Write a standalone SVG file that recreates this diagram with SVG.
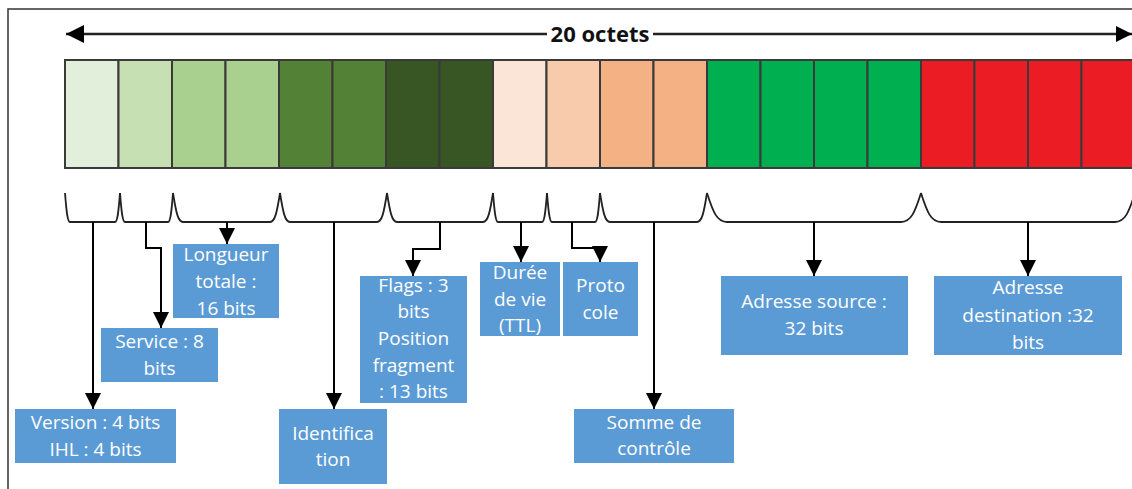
<svg xmlns="http://www.w3.org/2000/svg" width="1132" height="489" viewBox="0 0 1132 489">
  <style>
    .cell { stroke: #3a3a3a; stroke-width: 2; }
    .brace { fill: none; stroke: #222; stroke-width: 1.8; }
    .conn { fill: none; stroke: #000; stroke-width: 2; }
    .box { fill: #5B9BD5; }
    .lbl { font-family: "Open Sans", "Liberation Sans", sans-serif; font-size: 19px; fill: #ffffff; text-anchor: middle; }
    .title { font-family: "Open Sans", "Liberation Sans", sans-serif; font-size: 22px; font-weight: 700; fill: #111; text-anchor: middle; }
  </style>
  <defs>
    <marker id="tip" markerUnits="userSpaceOnUse" markerWidth="16" markerHeight="16" refX="16" refY="8" orient="auto">
      <path d="M0,0 L16,8 L0,16 z" fill="#000"/>
    </marker>
    <marker id="tipStart" markerUnits="userSpaceOnUse" markerWidth="18" markerHeight="18" refX="0" refY="9" orient="auto">
      <path d="M18,0 L0,9 L18,18 z" fill="#000"/>
    </marker>
  </defs>

  <rect width="1132" height="489" fill="#ffffff"/>
  <!-- outer frame -->
  <path d="M8,489 L8,9 L1132,9" fill="none" stroke="#333" stroke-width="1.5"/>

  <!-- header length arrow -->
  <g id="header-length">
    <line x1="66" y1="34" x2="1132" y2="34" stroke="#222" stroke-width="2.5" marker-start="url(#tipStart)" marker-end="url(#tip)"/>
    <rect x="547" y="22" width="106" height="24" fill="#ffffff"/>
    <text class="title" x="600" y="42">20 octets</text>
  </g>

  <!-- 20 header bytes -->
  <g id="bytes">
    <rect class="cell" x="65" y="60" width="53.5" height="108" fill="#E2EFDA"/>
    <rect class="cell" x="118.5" y="60" width="53.5" height="108" fill="#C6E0B4"/>
    <rect class="cell" x="172" y="60" width="53.5" height="108" fill="#A9D08E"/>
    <rect class="cell" x="225.5" y="60" width="53.5" height="108" fill="#A9D08E"/>
    <rect class="cell" x="279" y="60" width="53.5" height="108" fill="#538135"/>
    <rect class="cell" x="332.5" y="60" width="53.5" height="108" fill="#538135"/>
    <rect class="cell" x="386" y="60" width="53.5" height="108" fill="#375623"/>
    <rect class="cell" x="439.5" y="60" width="53.5" height="108" fill="#375623"/>
    <rect class="cell" x="493" y="60" width="53.5" height="108" fill="#FBE5D6"/>
    <rect class="cell" x="546.5" y="60" width="53.5" height="108" fill="#F8CBAD"/>
    <rect class="cell" x="600" y="60" width="53.5" height="108" fill="#F4B183"/>
    <rect class="cell" x="653.5" y="60" width="53.5" height="108" fill="#F4B183"/>
    <rect class="cell" x="707" y="60" width="53.5" height="108" fill="#00B050"/>
    <rect class="cell" x="760.5" y="60" width="53.5" height="108" fill="#00B050"/>
    <rect class="cell" x="814" y="60" width="53.5" height="108" fill="#00B050"/>
    <rect class="cell" x="867.5" y="60" width="53.5" height="108" fill="#00B050"/>
    <rect class="cell" x="921" y="60" width="53.5" height="108" fill="#EC1C24"/>
    <rect class="cell" x="974.5" y="60" width="53.5" height="108" fill="#EC1C24"/>
    <rect class="cell" x="1028" y="60" width="53.5" height="108" fill="#EC1C24"/>
    <rect class="cell" x="1081.5" y="60" width="53.5" height="108" fill="#EC1C24"/>
  </g>

  <!-- braces grouping the bytes into fields -->
  <g id="braces">
    <path class="brace" d="M65,193 C66.5,212 67.5,222 70,222 L115,222 C117.5,222 118.5,212 120,193"/>
    <path class="brace" d="M120,193 C121.5,212 122.5,222 125,222 L168,222 C170.5,222 171.5,212 173,193"/>
    <path class="brace" d="M173,193 C176,212 178,222 183,222 L270,222 C275,222 277,212 280,193"/>
    <path class="brace" d="M280,193 C283,212 285,222 290,222 L377,222 C382,222 384,212 387,193"/>
    <path class="brace" d="M387,193 C390,212 392,222 397,222 L483,222 C488,222 490,212 493,193"/>
    <path class="brace" d="M493,193 C494.5,212 495.5,222 498,222 L542,222 C544.5,222 545.5,212 547,193"/>
    <path class="brace" d="M547,193 C548.5,212 549.5,222 552,222 L595,222 C597.5,222 598.5,212 600,193"/>
    <path class="brace" d="M600,193 C603,212 605,222 610,222 L697,222 C702,222 704,212 707,193"/>
    <path class="brace" d="M707,193 C713,212 717,222 727,222 L901,222 C911,222 915,212 921,193"/>
    <path class="brace" d="M921,193 C927,212 931,222 941,222 L1115,222 C1125,222 1129,212 1135,193"/>
  </g>

  <!-- connectors from braces to field labels -->
  <g id="connectors">
    <path class="conn" d="M93,222 L93,409" marker-end="url(#tip)"/>
    <path class="conn" d="M146,222 L146,248 L161,248 L161,328" marker-end="url(#tip)"/>
    <path class="conn" d="M227,222 L227,244" marker-end="url(#tip)"/>
    <path class="conn" d="M334,222 L334,409" marker-end="url(#tip)"/>
    <path class="conn" d="M440,222 L440,249 L413,249 L413,276" marker-end="url(#tip)"/>
    <path class="conn" d="M521,222 L521,262" marker-end="url(#tip)"/>
    <path class="conn" d="M572,222 L572,248 L600,248 L600,262" marker-end="url(#tip)"/>
    <path class="conn" d="M654,222 L654,409" marker-end="url(#tip)"/>
    <path class="conn" d="M814,222 L814,276" marker-end="url(#tip)"/>
    <path class="conn" d="M1028,222 L1028,276" marker-end="url(#tip)"/>
  </g>

  <!-- field labels -->
  <g id="version">
    <rect class="box" x="15" y="409" width="161" height="54"/>
    <text class="lbl" x="95.5" y="429">Version : 4 bits</text>
    <text class="lbl" x="95.5" y="456">IHL : 4 bits</text>
  </g>
  <g id="service">
    <rect class="box" x="101" y="328" width="117" height="54"/>
    <text class="lbl" x="159.5" y="348">Service : 8</text>
    <text class="lbl" x="159.5" y="375">bits</text>
  </g>
  <g id="longueur">
    <rect class="box" x="173" y="244" width="106" height="74"/>
    <text class="lbl" x="226" y="261">Longueur</text>
    <text class="lbl" x="226" y="288">totale :</text>
    <text class="lbl" x="226" y="315">16 bits</text>
  </g>
  <g id="identification">
    <rect class="box" x="279" y="409" width="108" height="75"/>
    <text class="lbl" x="333" y="440">Identifica</text>
    <text class="lbl" x="333" y="466">tion</text>
  </g>
  <g id="flags">
    <rect class="box" x="360" y="276" width="107" height="127"/>
    <text class="lbl" x="413.5" y="292">Flags : 3</text>
    <text class="lbl" x="413.5" y="318">bits</text>
    <text class="lbl" x="413.5" y="345">Position</text>
    <text class="lbl" x="413.5" y="372">fragment</text>
    <text class="lbl" x="413.5" y="398">: 13 bits</text>
  </g>
  <g id="ttl">
    <rect class="box" x="480" y="262" width="80" height="74"/>
    <text class="lbl" x="520" y="279">Durée</text>
    <text class="lbl" x="520" y="306">de vie</text>
    <text class="lbl" x="520" y="332">(TTL)</text>
  </g>
  <g id="protocole">
    <rect class="box" x="563" y="262" width="75" height="74"/>
    <text class="lbl" x="600.5" y="292">Proto</text>
    <text class="lbl" x="600.5" y="319">cole</text>
  </g>
  <g id="somme">
    <rect class="box" x="574" y="409" width="160" height="54"/>
    <text class="lbl" x="654" y="429">Somme de</text>
    <text class="lbl" x="654" y="455">contrôle</text>
  </g>
  <g id="adresse-source">
    <rect class="box" x="721" y="276" width="187" height="79"/>
    <text class="lbl" x="814" y="308">Adresse source :</text>
    <text class="lbl" x="814" y="335">32 bits</text>
  </g>
  <g id="adresse-destination">
    <rect class="box" x="934" y="276" width="188" height="79"/>
    <text class="lbl" x="1028" y="294">Adresse</text>
    <text class="lbl" x="1028" y="322">destination :32</text>
    <text class="lbl" x="1028" y="349">bits</text>
  </g>
</svg>
